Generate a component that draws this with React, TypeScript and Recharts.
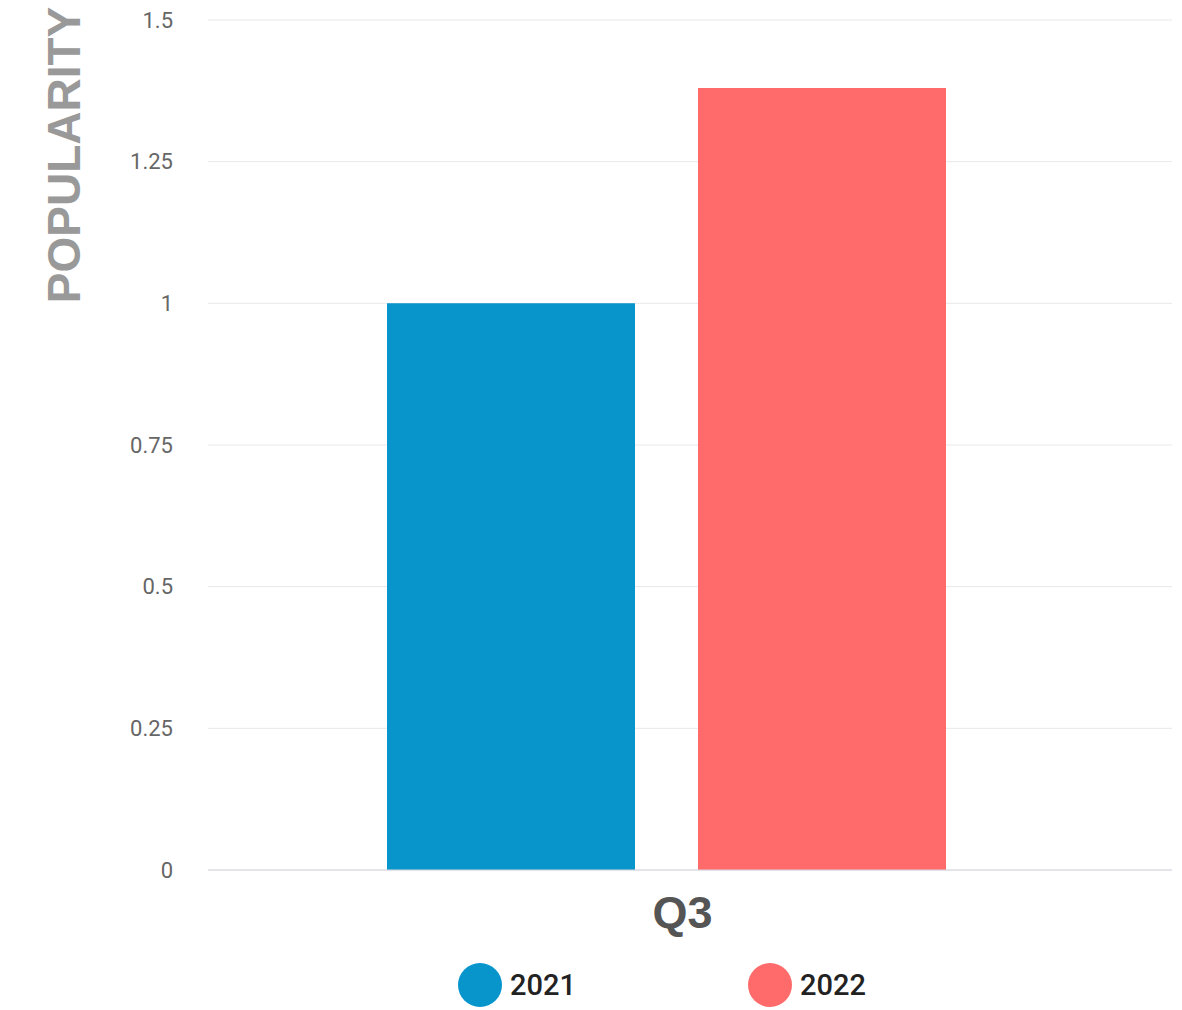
import { BarChart, Bar, XAxis, YAxis, CartesianGrid, Legend } from 'recharts';

const categories = ['Q3'];
const values2021 = [1];
const values2022 = [1.38];
const yTicks = [0, 0.25, 0.5, 0.75, 1, 1.25, 1.5];
const seriesNames = ['2021', '2022'];
const seriesColors = ['#0795cc', '#ff6b6b'];
const yTitle = 'POPULARITY';

const chartData = categories.map((quarter, i) => ({
  quarter,
  [seriesNames[0]]: values2021[i],
  [seriesNames[1]]: values2022[i],
}));

function QuarterTick(props: any) {
  const { x, y, payload } = props;
  return (
    <text
      x={x + 16}
      y={y + 42}
      textAnchor="middle"
      dominantBaseline="central"
      fontFamily="'Liberation Sans', Arial, sans-serif"
      fontWeight="bold"
      fontSize={45}
      fill="#555"
    >
      {payload.value}
    </text>
  );
}

function YTitle() {
  return (
    <text
      x={64}
      y={155}
      transform="rotate(-90, 64, 155)"
      textAnchor="middle"
      dominantBaseline="central"
      fontFamily="'Liberation Sans', Arial, sans-serif"
      fontWeight="bold"
      fontSize={46}
      fill="#999"
    >
      {yTitle}
    </text>
  );
}

function YearLegend(props: any) {
  const { payload } = props;
  return (
    <div
      style={{
        height: 60,
        paddingTop: 10,
        boxSizing: 'border-box',
        display: 'flex',
        justifyContent: 'center',
        alignItems: 'center',
        gap: 172,
        paddingLeft: 152,
      }}
    >
      {(payload || []).map((entry: any) => (
        <div key={entry.value} style={{ display: 'flex', alignItems: 'center' }}>
          <span
            style={{
              width: 44,
              height: 44,
              borderRadius: '50%',
              background: entry.color,
              display: 'inline-block',
              marginRight: 8,
            }}
          />
          <span style={{ fontFamily: 'Roboto, sans-serif', fontSize: 29, fontWeight: 500, color: '#222' }}>
            {entry.value}
          </span>
        </div>
      ))}
    </div>
  );
}

export default function App() {
  return (
    <div style={{ position: 'absolute', left: 0, top: 0 }}>
      <BarChart
        width={1182}
        height={1010}
        data={chartData}
        margin={{ top: 20, right: 10, left: 0, bottom: 0 }}
        barSize={248}
        barGap={63}
      >
        <CartesianGrid vertical={false} stroke="#e8e8ec" />
        <XAxis
          dataKey="quarter"
          height={80}
          tickLine={false}
          tickSize={0}
          tickMargin={0}
          axisLine={{ stroke: '#d4d4de' }}
          padding={{ left: 0, right: 47 }}
          tick={<QuarterTick />}
        />
        <YAxis
          width={208}
          domain={[0, 1.5]}
          ticks={yTicks}
          axisLine={false}
          tickLine={false}
          tickSize={0}
          tickMargin={35}
          tick={{ fontSize: 22, fill: '#666', fontFamily: 'Roboto, sans-serif' }}
          label={<YTitle />}
        />
        <Legend verticalAlign="bottom" height={60} content={<YearLegend />} />
        {seriesNames.map((name, i) => (
          <Bar key={name} dataKey={name} fill={seriesColors[i]} isAnimationActive={false} />
        ))}
      </BarChart>
    </div>
  );
}
